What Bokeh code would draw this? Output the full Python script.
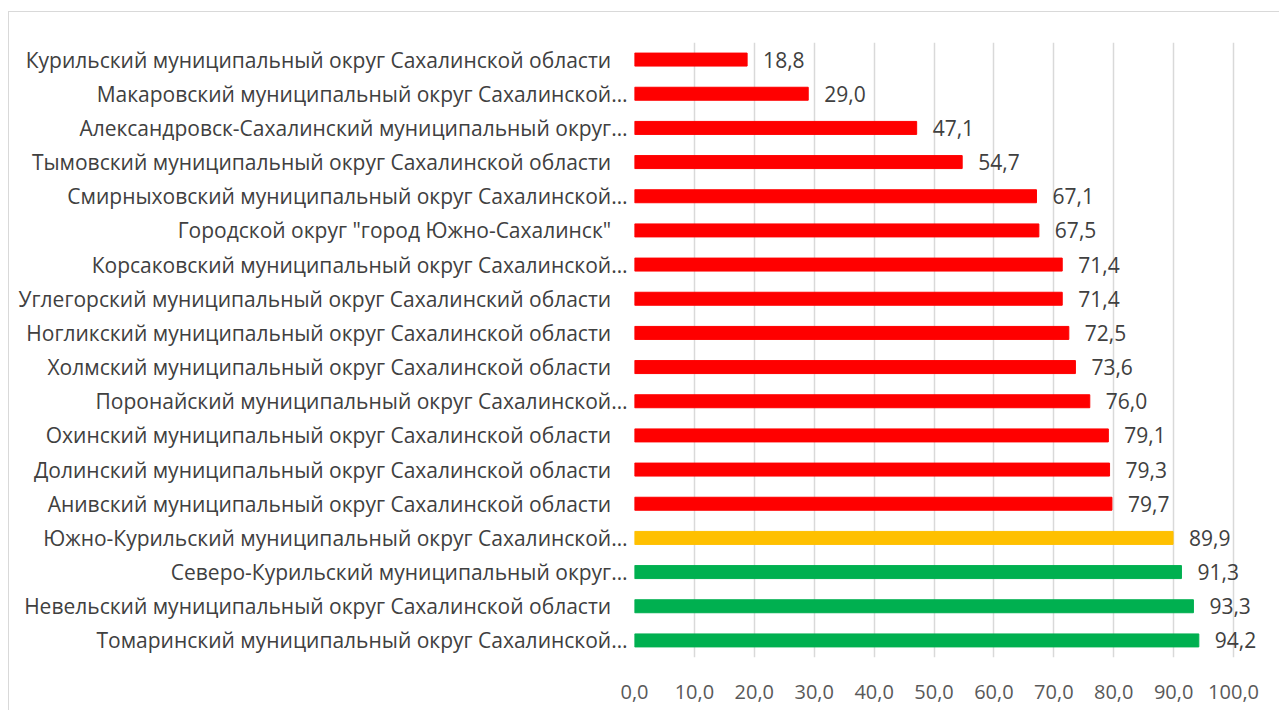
from bokeh.plotting import figure
from bokeh.models import FactorRange, Range1d, FixedTicker, ColumnDataSource
from bokeh.core.properties import value
from bokeh.embed import file_html
from bokeh.resources import INLINE

categories = [
    "Курильский муниципальный округ Сахалинской области",
    "Макаровский муниципальный округ Сахалинской…",
    "Александровск-Сахалинский муниципальный округ…",
    "Тымовский муниципальный округ Сахалинской области",
    "Смирныховский муниципальный округ Сахалинской…",
    "Городской округ \"город Южно-Сахалинск\"",
    "Корсаковский муниципальный округ Сахалинской…",
    "Углегорский муниципальный округ Сахалинский области",
    "Ногликский муниципальный округ Сахалинской области",
    "Холмский муниципальный округ Сахалинской области",
    "Поронайский муниципальный округ Сахалинской…",
    "Охинский муниципальный округ Сахалинской области",
    "Долинский муниципальный округ Сахалинской области",
    "Анивский муниципальный округ Сахалинской области",
    "Южно-Курильский муниципальный округ Сахалинской…",
    "Северо-Курильский муниципальный округ…",
    "Невельский муниципальный округ Сахалинской области",
    "Томаринский муниципальный округ Сахалинской…",
]
values = [18.8, 29.0, 47.1, 54.7, 67.1, 67.5, 71.4, 71.4, 72.5, 73.6,
          76.0, 79.1, 79.3, 79.7, 89.9, 91.3, 93.3, 94.2]
status = ["low"] * 14 + ["mid"] + ["high"] * 3
tick_values = [0, 10, 20, 30, 40, 50, 60, 70, 80, 90, 100]
tick_labels = ["0,0", "10,0", "20,0", "30,0", "40,0", "50,0", "60,0",
               "70,0", "80,0", "90,0", "100,0"]

palette = {"low": "#FF0000", "mid": "#FFC000", "high": "#00B050"}

# display labels: full names carry trailing padding as in the original
disp = [c if c.endswith("…") else c + "\u00a0\u00a0\u00a0" for c in categories]

src = ColumnDataSource(dict(
    y=disp,
    v=values,
    color=[palette[s] for s in status],
    label=[f"{v:.1f}".replace(".", ",") for v in values],
))

FONT = "Open Sans"

p = figure(
    width=1271, height=699,
    y_range=FactorRange(*reversed(disp)),
    x_range=Range1d(0, 106.5),
    output_backend="svg", toolbar_location=None,
    min_border_left=625, min_border_right=8,
    min_border_top=30, min_border_bottom=54,
)
p.styles = {"border-left": "1px solid #d9d9d9", "border-top": "1px solid #d9d9d9",
            "margin-left": "8px", "margin-top": "11px"}

p.hbar(y="y", right="v", left=0, height=0.38, color="color", source=src)
p.text(x="v", y="y", text="label", source=src, x_offset=16,
       text_baseline="middle", text_align="left",
       text_font=value(FONT), text_font_size="21px", text_color="#404040")

p.xaxis.ticker = FixedTicker(ticks=tick_values)
p.xaxis.major_label_overrides = {t: l for t, l in zip(tick_values, tick_labels)}
p.xaxis.axis_line_color = None
p.xaxis.major_tick_line_color = None
p.xaxis.minor_tick_line_color = None
p.xaxis.major_label_standoff = 21
p.xaxis.major_label_text_font = FONT
p.xaxis.major_label_text_font_size = "20px"
p.xaxis.major_label_text_color = "#595959"

p.yaxis.axis_line_color = None
p.yaxis.major_tick_line_color = None
p.yaxis.minor_tick_line_color = None
p.yaxis.major_label_standoff = 1
p.yaxis.major_label_text_font = FONT
p.yaxis.major_label_text_font_size = "21px"
p.yaxis.major_label_text_color = "#404040"

p.xgrid.ticker = FixedTicker(ticks=tick_values)
p.xgrid.grid_line_color = "#d9d9d9"
p.xgrid.grid_line_width = 1.5
p.ygrid.grid_line_color = None
p.outline_line_color = None

open("out.html", "w").write(file_html(p, INLINE))
